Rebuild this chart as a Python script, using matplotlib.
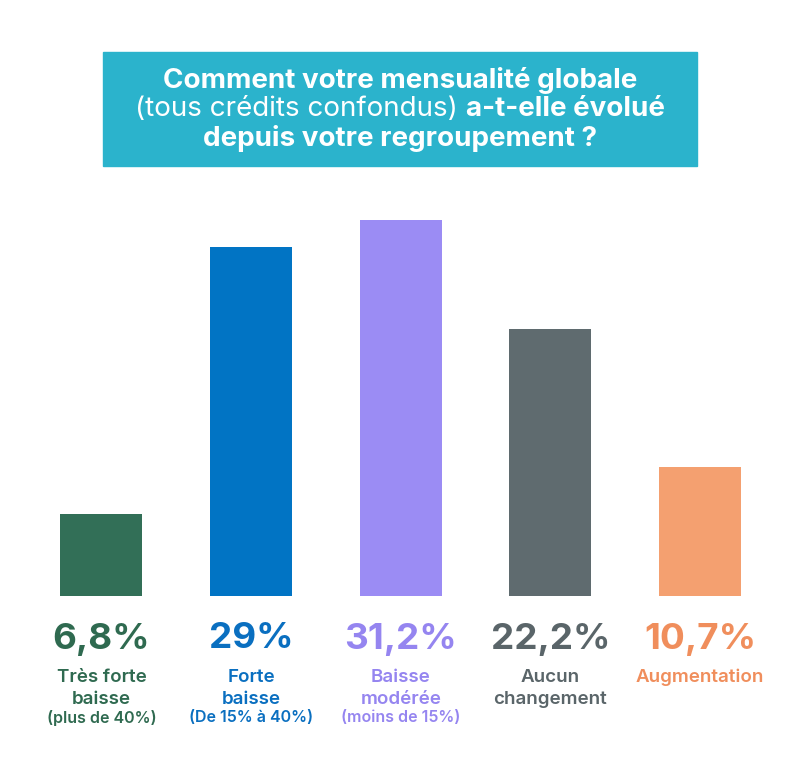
import matplotlib
matplotlib.use("Agg")
import matplotlib.pyplot as plt
import matplotlib.transforms as mtransforms
from matplotlib.patches import Rectangle

values = [6.8, 29, 31.2, 22.2, 10.7]
value_labels = ["6,8%", "29%", "31,2%", "22,2%", "10,7%"]
main_labels = [["Très forte", "baisse"], ["Forte", "baisse"], ["Baisse", "modérée"],
               ["Aucun", "changement"], ["Augmentation"]]
note_labels = ["(plus de 40%)", "(De 15% à 40%)", "(moins de 15%)", "", ""]
colors = ["#326f57", "#0174c4", "#9b8cf4", "#5f6b6f", "#f4a070"]
text_colors = ["#2f6a50", "#0a6fc0", "#9585f0", "#5a6569", "#f08e5c"]

plt.rcParams['font.family'] = ['Inter', 'DejaVu Sans']

W, H = 800, 780
fig = plt.figure(figsize=(W / 100, H / 100), dpi=100)
fig.patch.set_facecolor("white")

# axes placed so bars sit where they are in the picture
ymax = 31.2
ax = fig.add_axes([0, (H - 596) / H, 1, 375.5 / H * ymax / 31.2])
step = 149.6
ax.set_xlim(-101.5 / step, (W - 101.5) / step)
ax.set_ylim(0, ymax)
ax.axis("off")
x = list(range(len(values)))
ax.bar(x, values, width=82 / step, color=colors, clip_on=False)

# labels under bars
tr = mtransforms.blended_transform_factory(ax.transData, fig.transFigure)
for i in x:
    ax.text(i, 1 - 639 / H, value_labels[i], transform=tr, ha="center", va="center",
            fontsize=26.5, fontweight="bold", color=text_colors[i])
    for j, line in enumerate(main_labels[i]):
        ax.text(i, 1 - (677 + 22 * j) / H, line, transform=tr, ha="center", va="center",
                fontsize=13.5, fontweight="semibold", color=text_colors[i])
    if note_labels[i]:
        ax.text(i, 1 - 718 / H, note_labels[i], transform=tr, ha="center", va="center",
                fontsize=11.5, fontweight="semibold", color=text_colors[i])

# title box
fig.patches.append(Rectangle((103 / W, 1 - 166 / H), 594 / W, 114 / H,
                             transform=fig.transFigure, color="#2bb3cc", zorder=0))
tsize = 20
fig.text(0.5, 1 - 80 / H, "Comment votre mensualité globale", ha="center", va="center",
         fontsize=tsize, fontweight="bold", color="white")
fig.text(0.5, 1 - 138 / H, "depuis votre regroupement ?", ha="center", va="center",
         fontsize=tsize, fontweight="bold", color="white")
t1 = fig.text(0.5, 1 - 109 / H, "(tous crédits confondus) ", ha="left", va="center",
              fontsize=tsize, color="white")
t2 = fig.text(0.5, 1 - 109 / H, "a-t-elle évolué", ha="left", va="center",
              fontsize=tsize, fontweight="bold", color="white")
fig.canvas.draw()
r = fig.canvas.get_renderer()
w1 = t1.get_window_extent(r).width
w2 = t2.get_window_extent(r).width
x0 = (W - w1 - w2) / 2
t1.set_x(x0 / W)
t2.set_x((x0 + w1) / W)

fig.savefig("out.png", dpi=100)
